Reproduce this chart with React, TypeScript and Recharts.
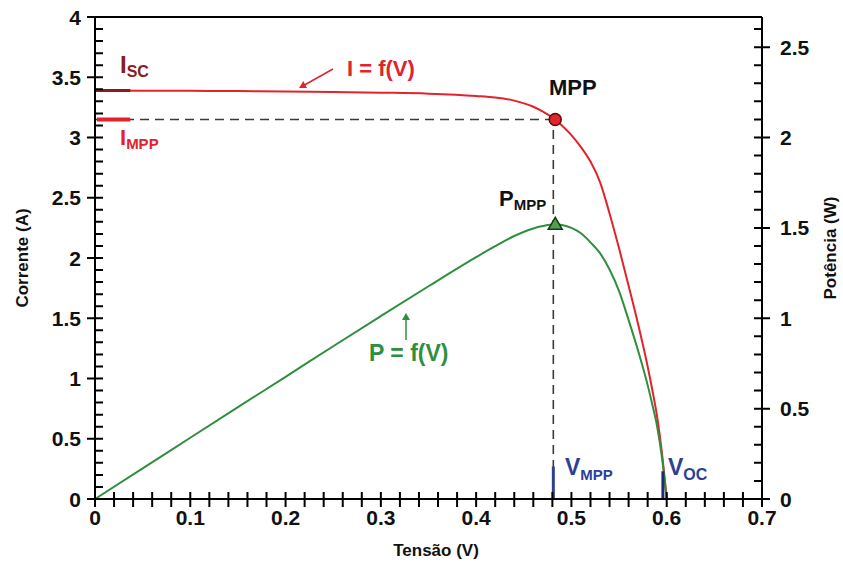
import React from 'react';
import { ComposedChart, Line, XAxis, YAxis, ReferenceLine, ReferenceDot } from 'recharts';

// tensão (V), corrente (A) e potência (W)
const voltage = [0, 0.05, 0.1, 0.15, 0.2, 0.25, 0.3, 0.35, 0.4, 0.42, 0.44, 0.46, 0.47, 0.483, 0.49, 0.5, 0.51, 0.52, 0.53, 0.54, 0.55, 0.56, 0.57, 0.58, 0.585, 0.59, 0.595, 0.6];
const current = [3.39, 3.389, 3.387, 3.385, 3.382, 3.378, 3.372, 3.364, 3.345, 3.332, 3.306, 3.255, 3.215, 3.15, 3.1, 3.02, 2.92, 2.8, 2.63, 2.37, 2.08, 1.77, 1.45, 1.1, 0.9, 0.68, 0.38, 0];
const power = [0, 0.169, 0.339, 0.508, 0.676, 0.845, 1.012, 1.177, 1.338, 1.399, 1.455, 1.497, 1.51, 1.52, 1.516, 1.5, 1.47, 1.42, 1.36, 1.27, 1.15, 0.99, 0.82, 0.63, 0.52, 0.4, 0.23, 0];

// pontos característicos
const iSc = 3.39;
const iMpp = 3.15;
const vMpp = 0.483;
const pMpp = 1.52;
const vOc = 0.598;

// ticks
const xTicks = [0, 0.02, 0.04, 0.06, 0.08, 0.1, 0.12, 0.14, 0.16, 0.18, 0.2, 0.22, 0.24, 0.26, 0.28, 0.3, 0.32, 0.34, 0.36, 0.38, 0.4, 0.42, 0.44, 0.46, 0.48, 0.5, 0.52, 0.54, 0.56, 0.58, 0.6, 0.62, 0.64, 0.66, 0.68, 0.7];
const xLabels = [0, 0.1, 0.2, 0.3, 0.4, 0.5, 0.6, 0.7];
const iMajor = [0, 0.5, 1, 1.5, 2, 2.5, 3, 3.5, 4];
const iMinor = [0.1, 0.2, 0.3, 0.4, 0.6, 0.7, 0.8, 0.9, 1.1, 1.2, 1.3, 1.4, 1.6, 1.7, 1.8, 1.9, 2.1, 2.2, 2.3, 2.4, 2.6, 2.7, 2.8, 2.9, 3.1, 3.2, 3.3, 3.4, 3.6, 3.7, 3.8, 3.9];
const pMajor = [0, 0.5, 1, 1.5, 2, 2.5];
const pMinor = [0.1, 0.2, 0.3, 0.4, 0.6, 0.7, 0.8, 0.9, 1.1, 1.2, 1.3, 1.4, 1.6, 1.7, 1.8, 1.9, 2.1, 2.2, 2.3, 2.4, 2.6];

const data = voltage.map((v, k) => ({ v, i: current[k], p: power[k] }));

const FONT = '"Liberation Sans", Arial, Helvetica, sans-serif';
const RED = '#e3232b';
const DARKRED = '#8a1c1f';
const GREEN = '#2f8f3f';
const BLUE = '#2e3f94';
const AXIS = { stroke: '#000', strokeWidth: 2 };

// área de plotagem (a mesma que resulta das margens e larguras dos eixos)
const W = 843;
const H = 562;
const TOP = 17;
const LEFT_W = 95;
const RIGHT_W = 81;
const X_H = 63;
const X_MAX = 0.7;
const I_MAX = 4;
const P_MAX = 8 / 3;
const plotL = LEFT_W;
const plotR = W - RIGHT_W;
const plotB = H - X_H;
const sx = (v: number) => plotL + (v / X_MAX) * (plotR - plotL);
const syI = (i: number) => plotB - (i / I_MAX) * (plotB - TOP);
const syP = (p: number) => plotB - (p / P_MAX) * (plotB - TOP);

const fmt = (v: number) => (Math.round(v * 10) / 10).toString();

const renderXTick = ({ x, y, payload }: any) => (
  <text x={x} y={y + 26} textAnchor="middle" fontFamily={FONT} fontWeight="bold" fontSize={21} fill="#111">
    {fmt(payload.value)}
  </text>
);

const renderLeftTick = ({ x, y, payload }: any) => (
  <text x={x - 14} y={y + 7.5} textAnchor="end" fontFamily={FONT} fontWeight="bold" fontSize={21} fill="#111">
    {fmt(payload.value)}
  </text>
);

const renderRightTick = ({ x, y, payload }: any) => (
  <text x={x + 18} y={y + 7.5} textAnchor="start" fontFamily={FONT} fontWeight="bold" fontSize={21} fill="#111">
    {fmt(payload.value)}
  </text>
);

const Triangle = ({ cx, cy }: any) => (
  <polygon
    points={`${cx},${cy - 7} ${cx - 7},${cy + 5} ${cx + 7},${cy + 5}`}
    fill="#4ea24e"
    stroke="#183a18"
    strokeWidth={1.5}
  />
);

// traços de escala como um único path
const tickPath = () => {
  const d: string[] = [];
  xTicks.forEach((t) => d.push(`M${sx(t)},${plotB - 7}V${plotB + 8}`));
  iMajor.forEach((t) => d.push(`M${plotL - 8},${syI(t)}H${plotL + 8}`));
  iMinor.forEach((t) => d.push(`M${plotL},${syI(t)}H${plotL + 8}`));
  pMajor.forEach((t) => d.push(`M${plotR - 8},${syP(t)}H${plotR + 8}`));
  pMinor.forEach((t) => d.push(`M${plotR - 8},${syP(t)}H${plotR}`));
  return d.join('');
};

const Overlay = () => (
  <svg width={W} height={H} style={{ position: 'absolute', left: 0, top: 0, pointerEvents: 'none' }}>
    <defs>
      <marker id="arrRed" markerWidth="8" markerHeight="8" refX="6" refY="4" orient="auto" markerUnits="userSpaceOnUse">
        <path d="M0,0 L7,4 L0,8 Z" fill={RED} />
      </marker>
      <marker id="arrGreen" markerWidth="8" markerHeight="8" refX="6" refY="4" orient="auto" markerUnits="userSpaceOnUse">
        <path d="M0,0 L7,4 L0,8 Z" fill={GREEN} />
      </marker>
    </defs>
    <path d={tickPath()} stroke="#000" strokeWidth={2} fill="none" />
    <g fontFamily={FONT} fontWeight="bold">
      <text x={120} y={73} fontSize={24} fill={DARKRED}>
        I<tspan fontSize={16} dy={4}>SC</tspan>
      </text>
      <text x={120} y={145} fontSize={22} fill={RED}>
        I<tspan fontSize={15} dy={4}>MPP</tspan>
      </text>
      <text x={347} y={76} fontSize={22} fill={RED}>I = f(V)</text>
      <line x1={333} y1={69} x2={300} y2={87.5} stroke={RED} strokeWidth={1.5} markerEnd="url(#arrRed)" />
      <text x={549} y={95} fontSize={22} fill="#111">MPP</text>
      <text x={499} y={206} fontSize={22} fill="#111">
        P<tspan fontSize={15} dy={4}>MPP</tspan>
      </text>
      <text x={369} y={361} fontSize={23} fill={GREEN}>P = f(V)</text>
      <line x1={406} y1={340} x2={406} y2={314} stroke={GREEN} strokeWidth={1.5} markerEnd="url(#arrGreen)" />
      <text x={565} y={475} fontSize={23} fill={BLUE}>
        V<tspan fontSize={15} dy={5}>MPP</tspan>
      </text>
      <text x={668} y={475} fontSize={23} fill={BLUE}>
        V<tspan fontSize={16} dy={5}>OC</tspan>
      </text>
      <text x={436} y={556} fontSize={17} textAnchor="middle" fill="#111">Tensão (V)</text>
      <text transform="translate(28,258) rotate(-90)" fontSize={17} textAnchor="middle" fill="#111">Corrente (A)</text>
      <text transform="translate(836,248) rotate(-90)" fontSize={17} textAnchor="middle" fill="#111">Potência (W)</text>
    </g>
  </svg>
);

export default function App() {
  return (
    <div style={{ position: 'relative', width: W, height: H, background: '#fff' }}>
      <style>{`body{margin:0;background:#fff}`}</style>
      <ComposedChart width={W} height={H} data={data} margin={{ top: TOP, right: 0, bottom: 0, left: 0 }}>
        <XAxis
          dataKey="v"
          type="number"
          domain={[0, X_MAX]}
          ticks={xLabels}
          interval={0}
          height={X_H}
          tickSize={0}
          tickMargin={0}
          tickLine={false}
          axisLine={AXIS}
          tick={renderXTick}
        />
        <YAxis
          yAxisId="I"
          orientation="left"
          type="number"
          domain={[0, I_MAX]}
          ticks={iMajor}
          interval={0}
          width={LEFT_W}
          tickSize={0}
          tickMargin={0}
          tickLine={false}
          axisLine={AXIS}
          tick={renderLeftTick}
        />
        <YAxis
          yAxisId="P"
          orientation="right"
          type="number"
          domain={[0, P_MAX]}
          ticks={pMajor}
          interval={0}
          width={RIGHT_W}
          tickSize={0}
          tickMargin={0}
          tickLine={false}
          axisLine={AXIS}
          tick={renderRightTick}
        />
        <ReferenceLine yAxisId="I" y={I_MAX} stroke="#000" strokeWidth={2} />

        <ReferenceLine
          yAxisId="I"
          segment={[{ x: 0, y: iMpp }, { x: vMpp, y: iMpp }]}
          stroke="#3a3a3a"
          strokeWidth={1.6}
          strokeDasharray="9 6"
        />
        <ReferenceLine
          yAxisId="I"
          segment={[{ x: vMpp - 0.002, y: 0 }, { x: vMpp - 0.002, y: iMpp }]}
          stroke="#3a3a3a"
          strokeWidth={1.6}
          strokeDasharray="9 6"
        />

        <Line yAxisId="I" dataKey="i" type="monotone" stroke={RED} strokeWidth={2} dot={false} isAnimationActive={false} />
        <Line yAxisId="P" dataKey="p" type="monotone" stroke={GREEN} strokeWidth={2} dot={false} isAnimationActive={false} />

        <ReferenceLine yAxisId="I" segment={[{ x: 0, y: iSc }, { x: 0.037, y: iSc }]} stroke={DARKRED} strokeWidth={3} />
        <ReferenceLine yAxisId="I" segment={[{ x: 0.002, y: iMpp }, { x: 0.037, y: iMpp }]} stroke={RED} strokeWidth={4} />
        <ReferenceLine yAxisId="I" segment={[{ x: vMpp - 0.002, y: 0 }, { x: vMpp - 0.002, y: 0.27 }]} stroke={BLUE} strokeWidth={3} />
        <ReferenceLine yAxisId="I" segment={[{ x: vOc - 0.002, y: 0 }, { x: vOc - 0.002, y: 0.23 }]} stroke="#1f2d6e" strokeWidth={3} />

        <ReferenceDot yAxisId="I" x={vMpp} y={iMpp} r={6} fill={RED} stroke="#5a0a0a" strokeWidth={1.5} />
        <ReferenceDot yAxisId="P" x={vMpp} y={pMpp} r={6} shape={<Triangle />} />
      </ComposedChart>
      <Overlay />
    </div>
  );
}
